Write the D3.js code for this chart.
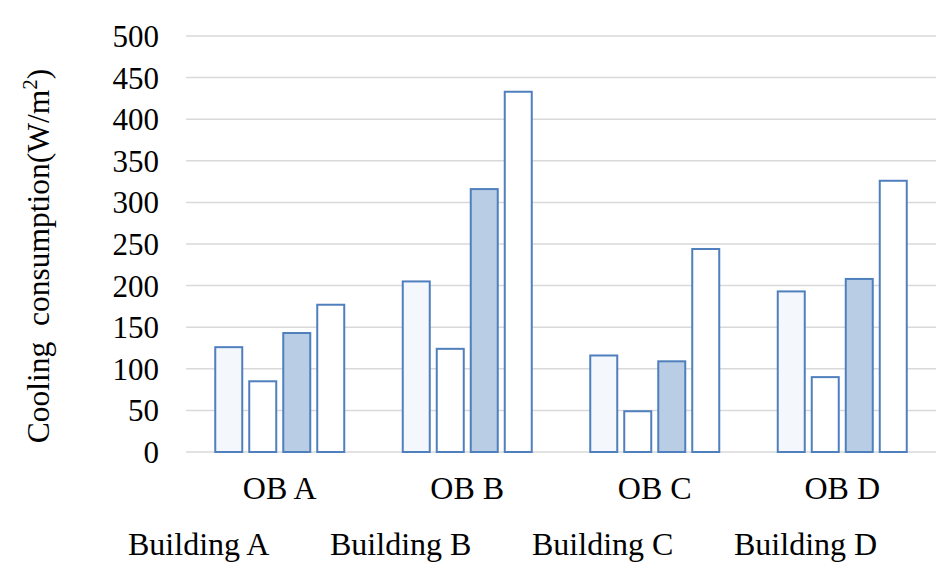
<!DOCTYPE html>
<html>
<head>
<meta charset="utf-8">
<script src="https://cdn.jsdelivr.net/npm/d3@7"></script>
<style>
  body { margin: 0; background: #fff; }
  text { font-family: "Liberation Serif", "Times New Roman", serif; fill: #000; }
</style>
</head>
<body>
<div id="chart"></div>
<script>
// Data
const categories = ['OB A', 'OB B', 'OB C', 'OB D']
const series = ['Building A', 'Building B', 'Building C', 'Building D']
const buildingA = [126, 205, 116, 193]
const buildingB = [85, 124, 49, 90]
const buildingC = [143, 316, 109, 208]
const buildingD = [177, 433, 244, 326]
const yTicks = [0, 50, 100, 150, 200, 250, 300, 350, 400, 450, 500]

const values = [buildingA, buildingB, buildingC, buildingD]
const fills = ['#f4f7fc', '#ffffff', '#b9cde5', '#ffffff']

const width = 951
const height = 579
const margin = { top: 36, right: 15, bottom: 127, left: 186 }

const svg = d3.select('#chart')
  .append('svg')
  .attr('width', width)
  .attr('height', height)
  .style('display', 'block')

const y = d3.scaleLinear()
  .domain([0, 500])
  .range([height - margin.bottom, margin.top])

const x0 = d3.scaleBand()
  .domain(categories)
  .range([margin.left, width - margin.right])

// bars in a group: 27px wide, 7px apart
const groupWidth = 129
const x1 = d3.scaleBand()
  .domain(series)
  .range([0, groupWidth])
  .paddingInner(7 / 34)

// Gridlines
svg.append('g')
  .selectAll('line')
  .data(yTicks)
  .join('line')
  .attr('x1', margin.left)
  .attr('x2', width - margin.right)
  .attr('y1', d => y(d))
  .attr('y2', d => y(d))
  .attr('stroke', '#d9d9d9')
  .attr('stroke-width', 1.5)

// Y axis labels
const yAxis = svg.append('g')
  .attr('transform', `translate(${margin.left - 27},0)`)
  .call(d3.axisLeft(y).tickValues(yTicks).tickSize(0).tickPadding(0))
yAxis.select('.domain').remove()
yAxis.selectAll('text')
  .attr('font-size', '31px')
  .attr('dy', '0.34em')

// Bars
const groups = svg.append('g')
  .selectAll('g')
  .data(categories)
  .join('g')
  .attr('transform', c => `translate(${x0(c) + (x0.bandwidth() - groupWidth) / 2},0)`)

groups.selectAll('rect')
  .data((c, ci) => series.map((s, si) => ({ s, si, v: values[si][ci] })))
  .join('rect')
  .attr('x', d => x1(d.s))
  .attr('y', d => y(d.v))
  .attr('width', x1.bandwidth())
  .attr('height', d => y(0) - y(d.v))
  .attr('fill', d => fills[d.si])
  .attr('stroke', '#4f7fbd')
  .attr('stroke-width', 2)

// X axis labels
const xAxis = svg.append('g')
  .attr('transform', `translate(0,${y(0)})`)
  .call(d3.axisBottom(x0).tickSize(0).tickPadding(0))
xAxis.select('.domain').remove()
xAxis.selectAll('text')
  .attr('font-size', '32px')
  .attr('dy', null)
  .attr('y', 47)

// Y title
svg.append('text')
  .attr('transform', `translate(49,${256}) rotate(-90)`)
  .attr('text-anchor', 'middle')
  .attr('font-size', '31.5px')
  .attr('xml:space', 'preserve')
  .style('white-space', 'pre')
  .html('Cooling  consumption(W/m<tspan dy="-12" font-size="21px">2</tspan><tspan dy="12">)</tspan>')

// Legend (text only)
svg.append('g')
  .selectAll('text')
  .data(series)
  .join('text')
  .attr('x', (d, i) => 128 + i * 202)
  .attr('y', 555)
  .attr('font-size', '32px')
  .text(d => d)
</script>
</body>
</html>
